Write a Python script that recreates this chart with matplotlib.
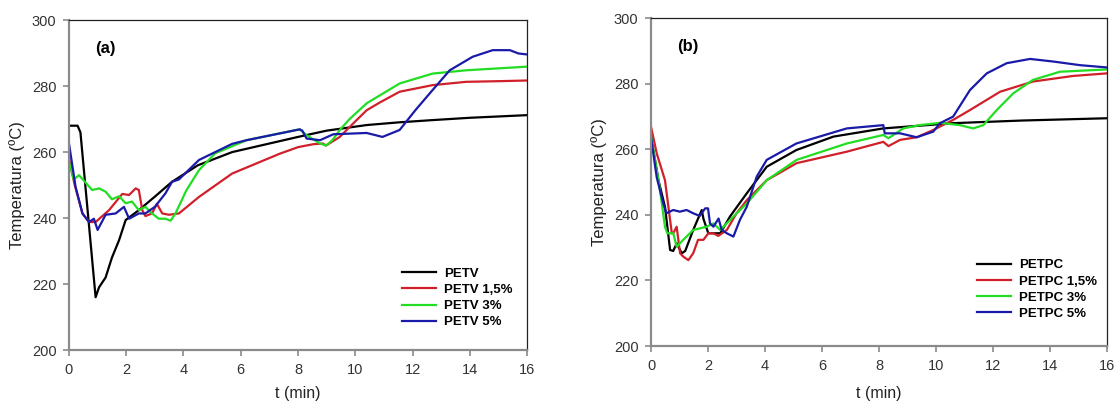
import matplotlib
matplotlib.use('Agg')
import matplotlib.pyplot as plt

plt.rcParams['font.family'] = ['Liberation Sans', 'DejaVu Sans']

# ---- panel (a): PETV ----
a_blk_t = [0, 0.3, 0.4, 0.93, 1.05, 1.28, 1.5, 1.75, 1.98, 2.44, 3.0, 3.6, 4.5, 5.7, 8.0, 9.0, 10.4, 11.5, 12.7, 14.0, 15.0, 16]
a_blk_T = [268, 268, 266, 216, 219, 222, 228, 233.3, 239.4, 242.4, 246.5, 251, 256, 260, 264.6, 266.5, 268.2, 269, 269.7, 270.4, 270.8, 271.2]

a_red_t = [0, 0.2, 0.47, 0.7, 0.93, 1.4, 1.86, 2.1, 2.33, 2.44, 2.56, 2.67, 2.9, 3.07, 3.26, 3.49, 3.84, 4.54, 5.7, 7.36, 8.0, 8.54, 8.87, 8.98, 9.46, 9.93, 10.4, 10.85,
           11.55, 12.7, 13.87, 15.0, 16]
a_red_T = [258, 250, 241.4, 238.8, 238.8, 242.4, 247.3, 247, 249, 248.5, 242.4, 240.6, 241.4, 244.3, 241.4, 241, 241.4, 246.4, 253.5, 259.5, 261.5, 262.4, 262.6, 262, 264.6, 268.7, 272.7, 275,
           278.3, 280.3, 281.3, 281.5, 281.7]

a_grn_t = [0, 0.17, 0.35, 0.81, 1.05, 1.28, 1.5, 1.75, 1.98, 2.2, 2.44, 2.67, 2.9, 3.14, 3.37, 3.55, 3.72, 4.1, 4.54, 5.1, 6.2, 8.06, 8.3, 8.77, 8.98, 9.2, 9.46, 9.8, 10.4,
           11.55, 12.7, 13.87, 16]
a_grn_T = [257, 251.7, 253, 248.5, 249, 248, 245.7, 246.6, 244.5, 245, 242.4, 243.4, 241.4, 239.8, 239.8, 239.2, 241.4, 248.4, 254.5, 259.6, 263.6, 266.9, 265.1, 262.6, 262, 263.6, 266.7, 270, 274.8,
           280.8, 283.8, 284.8, 285.9]

a_blu_t = [0, 0.23, 0.47, 0.7, 0.87, 1.0, 1.28, 1.63, 1.92, 2.1, 2.44, 2.67, 3.0, 3.37, 3.6, 3.84, 4.54, 5.7, 6.2, 8.06, 8.15, 8.3, 8.77, 9.23, 10.4, 10.95, 11.55,
           12.1, 12.7, 13.3, 14.1, 14.8, 15.4, 15.7, 16]
a_blu_T = [262.6, 249.5, 241.4, 238.8, 239.8, 236.4, 241, 241.4, 243.4, 239.8, 241.4, 241.4, 243.4, 247.5, 251, 251.7, 257.6, 262.5, 263.6, 266.9, 266.5, 264.1, 263.6, 265.4, 265.8, 264.6, 266.7,
           272.7, 278.8, 284.8, 288.9, 290.9, 290.9, 289.9, 289.6]

# ---- panel (b): PETPC ----
b_blk_t = [0, 0.26, 0.49, 0.67, 0.78, 0.9, 1.08, 1.2, 1.48, 1.78, 1.84, 2.01, 2.43, 2.77, 3.36, 4.06, 5.1, 6.4, 8.15, 10.6, 13.0, 16]
b_blk_T = [264, 250.6, 242.5, 229.3, 229, 231.3, 228.3, 229, 235.4, 241.5, 238.8, 234.4, 234.4, 239.5, 246.6, 254.7, 259.8, 263.9, 266.4, 268, 268.8, 269.5]

b_red_t = [0, 0.2, 0.49, 0.61, 0.73, 0.78, 0.9, 1.02, 1.13, 1.31, 1.48, 1.65, 1.84, 2.01, 2.19, 2.36, 2.66, 3.0, 3.36, 4.06, 5.11, 6.87, 8.15, 8.33, 8.74, 9.32, 9.9,
           10.6, 11.19, 12.25, 13.4, 14.8, 16]
b_red_T = [266.9, 258.8, 250.6, 242.5, 234.4, 234.4, 236.4, 228.3, 227.3, 226.2, 228.3, 232.4, 232.4, 234.4, 234.4, 233.6, 235.4, 240.5, 244.5, 250.6, 255.8, 259.3, 262.3, 261, 262.9, 263.7, 265.9,
           269, 272, 277.6, 280.7, 282.4, 283.2]

b_grn_t = [0, 0.3, 0.49, 0.57, 0.78, 0.9, 1.13, 1.48, 1.95, 2.19, 2.43, 2.89, 3.36, 4.06, 5.11, 6.87, 8.15, 8.33, 8.85, 9.43, 10.14, 10.84, 11.3, 11.66, 12.13, 12.71,
           13.4, 14.35, 16]
b_grn_T = [264, 248.6, 236.4, 234.4, 234.4, 230.3, 232.4, 235.4, 236.4, 237.4, 235.4, 239.5, 243.5, 250.6, 256.8, 261.8, 264.4, 263.4, 266.4, 267.4, 268.1, 267.4, 266.4, 267.4, 272, 277.1,
           281.2, 283.7, 284.4]

b_blu_t = [0, 0.2, 0.43, 0.54, 0.78, 1.01, 1.25, 1.48, 1.71, 1.9, 2.0, 2.07, 2.19, 2.37, 2.48, 2.66, 2.89, 3.12, 3.36, 3.71, 4.06, 5.1, 6.87, 8.15, 8.2, 8.74, 9.32, 9.9,
           10.14, 10.6, 11.19, 11.78, 12.48, 13.3, 14.12, 15.05, 16]
b_blu_T = [263.7, 251.5, 243.5, 240.5, 241.5, 241, 241.5, 240.5, 239.7, 242, 242, 237.4, 236.4, 238.9, 235.4, 234.4, 233.4, 238.5, 242.5, 251.7, 256.8, 261.8, 266.4, 267.4, 264.9, 264.9, 263.7, 265.4,
           268, 270, 278.1, 283.2, 286.3, 287.6, 286.8, 285.7, 285]

colors = ['#000000', '#d0202a', '#22dd22', '#1a1aa8']
labels_a = ['PETV', 'PETV 1,5%', 'PETV 3%', 'PETV 5%']
labels_b = ['PETPC', 'PETPC 1,5%', 'PETPC 3%', 'PETPC 5%']

fig = plt.figure(figsize=(11.18, 4.03), dpi=100)
ax1 = fig.add_axes([0.0617, 0.1315, 0.4097, 0.8185])
ax2 = fig.add_axes([0.5823, 0.1414, 0.4079, 0.8132])


def style(ax, tag, xpad):
    ax.set_xlim(0, 16)
    ax.set_ylim(200, 300)
    ax.set_xticks(range(0, 17, 2))
    ax.set_yticks(range(200, 301, 20))
    for s in ['left', 'bottom']:
        ax.spines[s].set_color('#8a8a8a')
        ax.spines[s].set_linewidth(1.6)
    for s in ['top', 'right']:
        ax.spines[s].set_color('#222222')
        ax.spines[s].set_linewidth(0.9)
    ax.tick_params(direction='out', length=4, width=1.2, color='#8a8a8a',
                   labelsize=10.5, labelcolor='#333333', pad=5)
    ax.set_xlabel('t (min)', fontsize=11.5, color='#222222', labelpad=xpad)
    ax.set_ylabel('Temperatura (ºC)', fontsize=12, color='#222222', labelpad=5)
    ax.text(0.058, 0.915, tag, transform=ax.transAxes, fontsize=12,
            fontweight='bold', ha='left', va='center')


series_a = [(a_blk_t, a_blk_T), (a_red_t, a_red_T), (a_grn_t, a_grn_T), (a_blu_t, a_blu_T)]
series_b = [(b_blk_t, b_blk_T), (b_red_t, b_red_T), (b_grn_t, b_grn_T), (b_blu_t, b_blu_T)]

for (t, T), c, lab in zip(series_a, colors, labels_a):
    ax1.plot(t, T, color=c, lw=1.6, label=lab)
for (t, T), c, lab in zip(series_b, colors, labels_b):
    ax2.plot(t, T, color=c, lw=1.6, label=lab)

style(ax1, '(a)', 7)
style(ax2, '(b)', 10)

leg_kw = dict(frameon=False, loc='upper left', borderpad=0, borderaxespad=0,
              handlelength=2.6, handletextpad=0.6, labelspacing=0.3,
              prop={'weight': 'bold', 'size': 9.5})
ax1.legend(bbox_to_anchor=(0.727, 0.25), **leg_kw)
ax2.legend(bbox_to_anchor=(0.715, 0.265), **leg_kw)

fig.savefig('out.png', dpi=100)
